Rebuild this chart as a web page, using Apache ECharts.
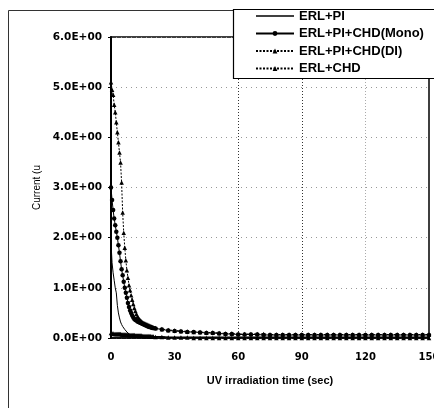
<!DOCTYPE html>
<html>
<head>
<meta charset="utf-8">
<script src="https://cdn.jsdelivr.net/npm/echarts@6/dist/echarts.min.js"></script>
<style>
  html, body { margin: 0; padding: 0; background: #fff; }
  #chart { width: 434px; height: 408px; }
</style>
</head>
<body>
<div id="chart"></div>
<script>
// Sampling times (sec): every 0.5 s up to 20 s, then every 3 s
const times = [
  0, 0.5, 1, 1.5, 2, 2.5, 3, 3.5, 4, 4.5, 5, 5.5, 6, 6.5, 7, 7.5, 8, 8.5, 9, 9.5,
  10, 10.5, 11, 11.5, 12, 12.5, 13, 13.5, 14, 14.5, 15, 15.5, 16, 16.5, 17, 17.5, 18, 18.5, 19, 19.5, 20,
  21, 24, 27, 30, 33, 36, 39, 42, 45, 48, 51, 54, 57, 60, 63, 66, 69, 72, 75, 78,
  81, 84, 87, 90, 93, 96, 99, 102, 105, 108, 111, 114, 117, 120, 123, 126, 129, 132, 135, 138,
  141, 144, 147, 150
];

const seriesNames = ['ERL+PI', 'ERL+PI+CHD(Mono)', 'ERL+PI+CHD(DI)', 'ERL+CHD'];

const erlPi = [
  1.9, 1.5, 1.3, 1.15, 1.0, 0.9, 0.65, 0.5, 0.4, 0.32, 0.27, 0.23, 0.2, 0.17, 0.14, 0.12, 0.1, 0.08, 0.07, 0.06,
  0.05, 0.05, 0.04, 0.04, 0.04, 0.04, 0.04, 0.03, 0.03, 0.03, 0.03, 0.03, 0.03, 0.03, 0.03, 0.03, 0.03, 0.03, 0.03, 0.03, 0.03,
  0.03, 0.03, 0.02, 0.02, 0.02, 0.02, 0.02, 0.02, 0.02, 0.02, 0.02, 0.02, 0.02, 0.02, 0.02, 0.02, 0.02, 0.02, 0.02, 0.02,
  0.02, 0.02, 0.02, 0.02, 0.02, 0.02, 0.02, 0.02, 0.02, 0.02, 0.02, 0.02, 0.02, 0.02, 0.02, 0.02, 0.02, 0.02, 0.02, 0.02,
  0.02, 0.02, 0.02, 0.02
];

const erlPiChdMono = [
  3.0, 2.75, 2.55, 2.38, 2.25, 2.12, 2.0, 1.85, 1.7, 1.53, 1.37, 1.25, 1.12, 1.0, 0.9, 0.8, 0.7, 0.62, 0.55, 0.5,
  0.45, 0.41, 0.38, 0.36, 0.35, 0.33, 0.32, 0.31, 0.3, 0.29, 0.28, 0.27, 0.26, 0.25, 0.24, 0.23, 0.22, 0.22, 0.21, 0.2, 0.2,
  0.19, 0.17, 0.15, 0.14, 0.13, 0.12, 0.12, 0.11, 0.1, 0.1, 0.09, 0.08, 0.08, 0.07, 0.07, 0.07, 0.07, 0.06, 0.06, 0.06,
  0.06, 0.06, 0.06, 0.06, 0.06, 0.06, 0.06, 0.06, 0.06, 0.06, 0.06, 0.06, 0.06, 0.06, 0.06, 0.06, 0.06, 0.06, 0.06, 0.06,
  0.06, 0.06, 0.06, 0.06
];

const erlPiChdDi = [
  5.1, 4.95, 4.85, 4.65, 4.5, 4.3, 4.1, 3.9, 3.7, 3.5, 3.1, 2.5, 2.1, 1.8, 1.55, 1.35, 1.2, 1.05, 0.95, 0.85,
  0.76, 0.68, 0.6, 0.54, 0.48, 0.43, 0.4, 0.37, 0.35, 0.33, 0.31, 0.3, 0.29, 0.28, 0.27, 0.26, 0.25, 0.24, 0.23, 0.22, 0.21,
  0.2, 0.18, 0.16, 0.15, 0.14, 0.13, 0.12, 0.12, 0.11, 0.11, 0.1, 0.09, 0.09, 0.08, 0.08, 0.08, 0.08, 0.08, 0.07, 0.07,
  0.07, 0.07, 0.07, 0.07, 0.07, 0.07, 0.07, 0.07, 0.07, 0.07, 0.07, 0.07, 0.07, 0.07, 0.07, 0.07, 0.07, 0.07, 0.07, 0.07,
  0.07, 0.07, 0.07, 0.07
];

const erlChd = [
  0.1, 0.09, 0.09, 0.08, 0.08, 0.08, 0.08, 0.08, 0.08, 0.08, 0.07, 0.07, 0.07, 0.07, 0.07, 0.07, 0.07, 0.06, 0.06, 0.06,
  0.06, 0.06, 0.06, 0.05, 0.05, 0.05, 0.05, 0.05, 0.05, 0.05, 0.04, 0.04, 0.04, 0.04, 0.04, 0.04, 0.04, 0.04, 0.03, 0.03, 0.03,
  0.02, 0.02, 0.01, 0.01, 0.01, 0.01, 0.0, 0.0, 0.0, 0.0, 0.0, 0.0, 0.0, 0.0, 0.0, 0.0, 0.0, 0.0, 0.0, 0.0,
  0.0, 0.0, 0.0, 0.0, 0.0, 0.0, 0.0, 0.0, 0.0, 0.0, 0.0, 0.0, 0.0, 0.0, 0.0, 0.0, 0.0, 0.0, 0.0, 0.0,
  0.0, 0.0, 0.0, 0.0
];

const xTicks = [0, 30, 60, 90, 120, 150];
const yTicks = [0, 1, 2, 3, 4, 5, 6];

const pair = (vals) => times.map((t, i) => [t, vals[i]]);

// 6 -> "6.0E+00"
function sci(v) {
  const s = Number(v).toExponential(1).toUpperCase();
  const m = s.match(/^(-?[\d.]+)E([+-])(\d+)$/);
  return m[1] + 'E' + m[2] + m[3].padStart(2, '0');
}

const chart = echarts.init(document.getElementById('chart'), null, { renderer: 'canvas' });

const lineBase = { color: '#000', width: 1 };

chart.setOption({
  animation: false,
  backgroundColor: '#fff',
  graphic: [
    { type: 'rect', z: -10, silent: true,
      shape: { x: 8.5, y: 10.5, width: 600, height: 600 },
      style: { fill: 'none', stroke: '#333', lineWidth: 1 } },
    { type: 'rect', z: 50, silent: true,
      shape: { x: 233.5, y: 9.5, width: 300, height: 69 },
      style: { fill: '#fff', stroke: '#000', lineWidth: 1.2 } }
  ],
  legend: {
    z: 60,
    orient: 'vertical',
    left: 255,
    top: 9,
    itemWidth: 38,
    itemHeight: 6,
    itemGap: 3.5,
    padding: 0,
    textStyle: { fontFamily: 'Liberation Sans', fontWeight: 'bold', fontSize: 13, lineHeight: 14, color: '#000' },
    data: [
      // plain solid stroke for the marker-less series
      { name: seriesNames[0], icon: 'path://M0,0 H38 V1.6 H0 Z', itemStyle: { color: '#000' } },
      seriesNames[1], seriesNames[2], seriesNames[3]
    ]
  },
  grid: {
    left: 111, right: 5, top: 37, bottom: 70,
    show: true, borderColor: '#000', borderWidth: 1.5,
    outerBoundsMode: 'none'
  },
  xAxis: {
    type: 'value', min: xTicks[0], max: xTicks[xTicks.length - 1], interval: xTicks[1] - xTicks[0],
    name: 'UV irradiation time (sec)', nameLocation: 'middle', nameGap: 37,
    nameTextStyle: { fontFamily: 'Liberation Sans', fontWeight: 'bold', fontSize: 11, color: '#000' },
    axisLine: { show: true, lineStyle: { color: '#000', width: 1.5 } },
    axisTick: { show: false },
    axisLabel: { margin: 14, fontFamily: 'DejaVu Sans', fontWeight: 'bold', fontSize: 10, color: '#000',
      showMaxLabel: true, hideOverlap: false },
    splitLine: { show: true, lineStyle: {
      color: ['rgba(0,0,0,0)', 'rgba(0,0,0,0)', '#333', '#333', '#aaa', 'rgba(0,0,0,0)'],
      type: [1, 2], width: 1 } }
  },
  yAxis: {
    type: 'value', min: yTicks[0], max: yTicks[yTicks.length - 1], interval: yTicks[1] - yTicks[0],
    name: 'Current (u', nameLocation: 'middle', nameGap: 68, nameRotate: 90,
    nameTextStyle: { fontFamily: 'Liberation Sans', fontSize: 10, color: '#000' },
    axisLine: { show: true, lineStyle: { color: '#000', width: 2 } },
    axisTick: { show: true, inside: false, length: 3, lineStyle: { color: '#000' } },
    axisLabel: { margin: 9, fontFamily: 'DejaVu Sans', fontWeight: 'bold', fontSize: 10.5, color: '#000',
      formatter: sci },
    splitLine: { show: true, lineStyle: { color: '#999', type: [1, 4], width: 1 } }
  },
  series: [
    { name: seriesNames[0], type: 'line', data: pair(erlPi), symbol: 'none',
      lineStyle: { ...lineBase, type: 'solid' }, itemStyle: { color: '#000' }, z: 3 },
    { name: seriesNames[1], type: 'line', data: pair(erlPiChdMono), symbol: 'circle', symbolSize: 4.5,
      showAllSymbol: true,
      lineStyle: { ...lineBase, type: 'solid' }, itemStyle: { color: '#000' }, z: 4 },
    { name: seriesNames[2], type: 'line', data: pair(erlPiChdDi), symbol: 'triangle', symbolSize: 4.5,
      showAllSymbol: true,
      lineStyle: { ...lineBase, type: [2, 1.5] }, itemStyle: { color: '#000' }, z: 5 },
    { name: seriesNames[3], type: 'line', data: pair(erlChd), symbol: 'triangle', symbolSize: 4.5,
      showAllSymbol: true,
      lineStyle: { ...lineBase, type: [2, 1.5] }, itemStyle: { color: '#000' }, z: 2 }
  ]
});
</script>
</body>
</html>
